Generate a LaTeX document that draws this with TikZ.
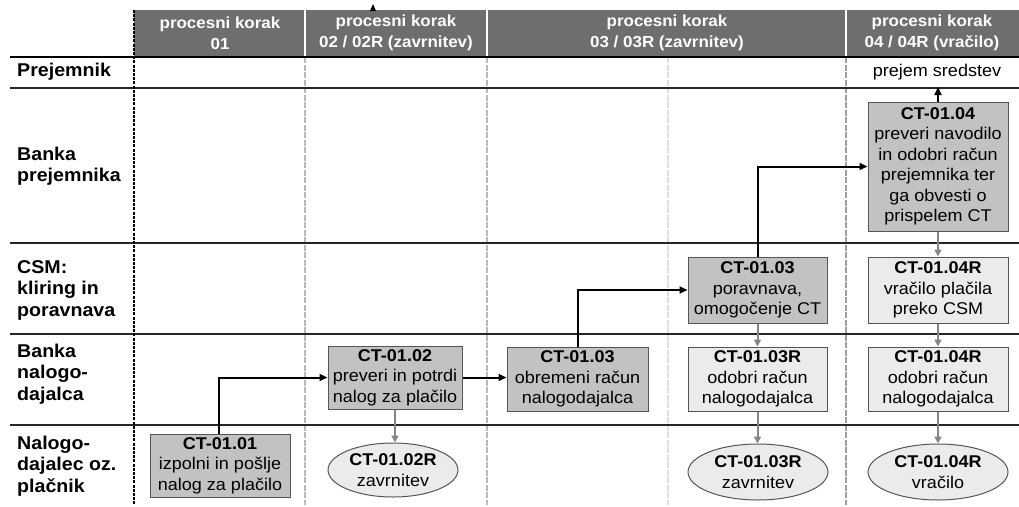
\documentclass[tikz,border=0pt]{standalone}
\usepackage{fontspec}
\setmainfont{Liberation Sans}[FakeStretch=1.06]
\usetikzlibrary{arrows.meta,shapes.geometric}
\definecolor{headgray}{HTML}{6E6E6E}
\definecolor{darkbox}{HTML}{C2C2C2}
\definecolor{lightbox}{HTML}{EBEBEB}
\definecolor{boxline}{HTML}{555555}
\definecolor{flowgray}{HTML}{858585}
\tikzset{
  txt/.style={font=\fontsize{17}{20.5}\selectfont, align=center, inner sep=0pt},
  actdark/.style={txt, draw=boxline, line width=1pt, fill=darkbox, rectangle},
  actlight/.style={txt, draw=boxline, line width=1pt, fill=lightbox, rectangle},
  endstate/.style={txt, draw=boxline, line width=1pt, fill=lightbox, ellipse},
  lanelbl/.style={font=\bfseries\fontsize{18.5}{21.5}\selectfont, align=left, anchor=west, inner sep=0pt},
  headlbl/.style={font=\bfseries\fontsize{16}{21}\selectfont, align=center, text=white, inner sep=0pt},
  mainflow/.style={draw=black, line width=2pt, -{Triangle[length=8pt,width=7pt]}},
  sideflow/.style={draw=flowgray, line width=2pt, -{Triangle[length=7pt,width=7pt]}},
  lane/.style={draw=black!85, line width=1.6pt},
}
\begin{document}
\begin{tikzpicture}[x=1pt,y=-1pt]
\useasboundingbox (0,0) rectangle (1019,506);

% column header band
\fill[headgray] (134,10) rectangle (1019,56);
\foreach \cx in {305,487,846} \draw[white, line width=1.2pt] (\cx,10) -- (\cx,56);
\node[headlbl] (h1) at (220,33) {procesni korak\\01};
\node[headlbl] (h2) at (396,33) {procesni korak\\02 / 02R (zavrnitev)};
\node[headlbl] (h3) at (667,33) {procesni korak\\03 / 03R (zavrnitev)};
\node[headlbl] (h4) at (932,33) {procesni korak\\04 / 04R (vračilo)};
\fill (370,11) -- (373,4) -- (376,11) -- cycle;

% column separators
\draw[gray!25, line width=1.5pt, dash pattern=on 6pt off 1.5pt] (668,57) -- (668,505);
\draw[gray!55, line width=1.5pt, dash pattern=on 6pt off 1.5pt] (305,57) -- (305,505);
\draw[gray!55, line width=1.5pt, dash pattern=on 6pt off 1.5pt] (487,57) -- (487,505);
\draw[gray!75, line width=2.5pt, dash pattern=on 6pt off 1.5pt] (846,57) -- (846,505);

% swimlane borders
\draw[black, line width=2.4pt] (10,57) -- (1019,57);
\foreach \ly in {88,243,334,425} \draw[lane] (10,\ly) -- (1019,\ly);
\draw[black, line width=2pt, dash pattern=on 3pt off 1.2pt] (134,10) -- (134,505);

% swimlane titles
\node[lanelbl] (l1) at (17,72) {Prejemnik};
\node[lanelbl] (l2) at (17,166) {Banka\\prejemnika};
\node[lanelbl] (l3) at (17,290) {CSM:\\kliring in\\poravnava};
\node[lanelbl] (l4) at (17,374) {Banka\\nalogo-\\dajalca};
\node[lanelbl] (l5) at (17,466) {Nalogo-\\dajalec oz.\\plačnik};

% process steps
\node[actdark, minimum width=140pt, minimum height=63pt] (s0101) at (220,465.5) {\textbf{CT-01.01}\\izpolni in pošlje\\nalog za plačilo};
\node[actdark, minimum width=134pt, minimum height=63pt] (s0102) at (395,377.5) {\textbf{CT-01.02}\\preveri in potrdi\\nalog za plačilo};
\node[endstate, minimum width=130pt, minimum height=54pt] (e0102) at (393,470) {\textbf{CT-01.02R}\\zavrnitev};
\node[actdark, minimum width=141pt, minimum height=64pt] (s0103b) at (577.5,379) {\textbf{CT-01.03}\\obremeni račun\\nalogodajalca};
\node[actdark, minimum width=139pt, minimum height=66pt] (s0103c) at (757.5,290) {\textbf{CT-01.03}\\poravnava,\\omogočenje CT};
\node[actlight, minimum width=139pt, minimum height=64pt] (r0103) at (757.5,379) {\textbf{CT-01.03R}\\odobri račun\\nalogodajalca};
\node[endstate, minimum width=140pt, minimum height=56pt] (e0103) at (758,472) {\textbf{CT-01.03R}\\zavrnitev};
\node[actdark, minimum width=140pt, minimum height=129pt] (s0104) at (938,166.5) {\textbf{CT-01.04}\\preveri navodilo\\in odobri račun\\prejemnika ter\\ga obvesti o\\prispelem CT};
\node[actlight, minimum width=140pt, minimum height=66pt] (r0104c) at (938,290) {\textbf{CT-01.04R}\\vračilo plačila\\preko CSM};
\node[actlight, minimum width=140pt, minimum height=64pt] (r0104b) at (938,379) {\textbf{CT-01.04R}\\odobri račun\\nalogodajalca};
\node[endstate, minimum width=140pt, minimum height=56pt] (e0104) at (938,472) {\textbf{CT-01.04R}\\vračilo};
\node[txt] (recv) at (937,72) {prejem sredstev};
\coordinate (recvin) at (938,87);

% main payment flow
\draw[mainflow] (s0101.north -| 219,0) |- (s0102.west);
\draw[mainflow] (s0102.east) -- (s0102.east -| s0103b.west);
\draw[mainflow] (s0103b.north) |- (s0103c.west);
\draw[mainflow] (s0103c.north) |- (s0104.west);
\draw[mainflow] (s0104.north) -- (recvin);

% rejection and return flows
\draw[sideflow] (s0102.south) -- (s0102.south |- e0102.north);
\draw[sideflow] (s0103c.south) -- (r0103.north);
\draw[sideflow] (r0103.south) -- (r0103.south |- e0103.north);
\draw[sideflow] (s0104.south) -- (r0104c.north);
\draw[sideflow] (r0104c.south) -- (r0104b.north);
\draw[sideflow] (r0104b.south) -- (e0104.north);
\end{tikzpicture}
\end{document}
